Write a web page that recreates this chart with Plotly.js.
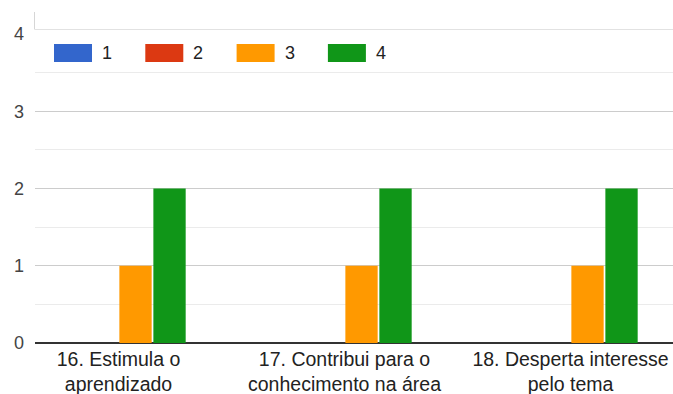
<!DOCTYPE html>
<html>
<head>
<meta charset="utf-8">
<script src="https://cdn.plot.ly/plotly-3.0.1.min.js"></script>
<style>
  html, body { margin: 0; padding: 0; background: #ffffff; }
  #chart { width: 673px; height: 394px; }
</style>
</head>
<body>
<div id="chart"></div>
<script>
// Survey answers per statement, counted by rating (1 to 4)
const categories = [
  '16. Estimula o<br>aprendizado',
  '17. Contribui para o<br>conhecimento na área',
  '18. Desperta interesse<br>pelo tema'
];
const seriesNames = ['1', '2', '3', '4'];
const seriesColors = ['#3366cc', '#dc3912', '#ff9900', '#109618'];
const values1 = [0, 0, 0];
const values2 = [0, 0, 0];
const values3 = [1, 1, 1];
const values4 = [2, 2, 2];
const yTicks = [0, 1, 2, 3, 4];
const yTickLabels = ['0', '1', '2', '3', '4'];

const allValues = [values1, values2, values3, values4];

// Plot box in pixels (used for the hand-drawn legend and frame lines)
const W = 673, H = 394;
const M = { l: 35, r: 0, t: 34, b: 51 };
const plotW = W - M.l - M.r;
const plotH = H - M.t - M.b;
const px2x = px => (px - M.l) / plotW;
const py2y = py => (H - M.b - py) / plotH;

const traces = seriesNames.map((name, i) => ({
  type: 'bar',
  name: name,
  x: categories,
  y: allValues[i],
  marker: { color: seriesColors[i], line: { width: 0 } },
  hoverinfo: 'x+y+name',
  showlegend: false
}));

// Legend: wide rounded swatches with the rating next to each
const shapes = [];
const annotations = [];
const legendLeft = 54, legendStep = 91.3, swW = 38, swTop = 44, swBot = 62;
seriesNames.forEach((name, i) => {
  const x0 = legendLeft + i * legendStep;
  shapes.push({
    type: 'rect', xref: 'paper', yref: 'paper',
    x0: px2x(x0), x1: px2x(x0 + swW), y0: py2y(swBot), y1: py2y(swTop),
    fillcolor: seriesColors[i], line: { width: 0 }, layer: 'above'
  });
  annotations.push({
    xref: 'paper', yref: 'paper',
    x: px2x(x0 + swW + 8), y: py2y(53.5),
    xanchor: 'left', yanchor: 'middle',
    text: name, showarrow: false,
    font: { family: 'Liberation Sans, Arial, sans-serif', size: 18, color: '#222222' }
  });
});

// Frame edge above the top gridline
shapes.push({
  type: 'line', xref: 'paper', yref: 'paper',
  x0: 0, x1: 1, y0: py2y(29.5), y1: py2y(29.5),
  line: { color: '#e2e2e2', width: 1 }
});
shapes.push({
  type: 'line', xref: 'paper', yref: 'paper',
  x0: px2x(34.5), x1: px2x(34.5), y0: py2y(29.5), y1: py2y(12),
  line: { color: '#d6d6d6', width: 1 }
});

const layout = {
  width: W, height: H,
  margin: M,
  paper_bgcolor: '#ffffff',
  plot_bgcolor: '#ffffff',
  barmode: 'group',
  bargap: 0.398,
  bargroupgap: 0.05,
  showlegend: false,
  font: { family: 'Liberation Sans, Arial, sans-serif' },
  xaxis: {
    type: 'category',
    range: [-0.3695, 2.4535],
    showgrid: false, zeroline: false, showline: false, ticks: '',
    tickfont: { size: 19.5, color: '#222222' },
    ticklabelstandoff: 2,
    fixedrange: true
  },
  yaxis: {
    range: [0, 4],
    tickvals: yTicks,
    ticktext: yTickLabels,
    showgrid: true, gridcolor: '#cccccc', gridwidth: 1,
    minor: { dtick: 0.5, showgrid: true, gridcolor: '#ebebeb', gridwidth: 1 },
    zeroline: true, zerolinecolor: '#333333', zerolinewidth: 1.5,
    showline: false, ticks: '',
    tickfont: { size: 18, color: '#444444' },
    ticklabelstandoff: 10,
    fixedrange: true
  },
  shapes: shapes,
  annotations: annotations
};

Plotly.newPlot('chart', traces, layout, { displayModeBar: false, staticPlot: true });
</script>
</body>
</html>
